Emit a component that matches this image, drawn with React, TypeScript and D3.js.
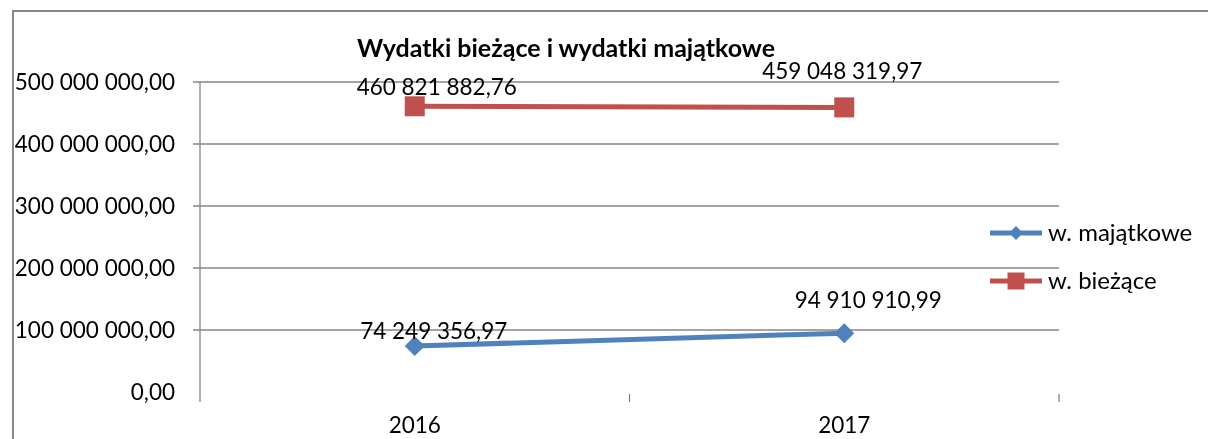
import * as React from "react"
import * as d3 from "d3"

const WIDTH = 1208
const HEIGHT = 439

const title = "Wydatki bieżące i wydatki majątkowe"
const years = ["2016", "2017"]
const yTicks = [0, 100000000, 200000000, 300000000, 400000000, 500000000]

const majatkowe = [74249356.97, 94910910.99]
const biezace = [460821882.76, 459048319.97]

// label offsets from the marker (how Excel happened to place them)
const majatkoweLabelOffset = [
  [19, -7],
  [24, -25],
]
const biezaceLabelOffset = [
  [22, -11],
  [-2, -28],
]

const BLUE = "#4F81BD"
const RED = "#C0504D"
const GRID = "#868686"
const FONT = "Lato, 'Open Sans', sans-serif"

const pl = d3.formatLocale({
  decimal: ",",
  thousands: " ",
  grouping: [3],
  currency: ["", ""],
})
const fmt = pl.format(",.2f")

export default function App() {
  const svgRef = React.useRef<SVGSVGElement>(null)

  React.useEffect(() => {
    const svg = d3.select(svgRef.current)
    svg.selectAll("*").remove()

    const left = 200
    const right = 1059
    const top = 82
    const bottom = 392

    const x = d3.scaleBand().domain(years).range([left, right])
    const y = d3.scaleLinear().domain([0, 500000000]).range([bottom, top])
    const cx = (d: string) => (x(d) as number) + x.bandwidth() / 2

    // frame (only top and left edges fall inside the picture)
    svg
      .append("path")
      .attr("d", `M13,${HEIGHT}V11H${WIDTH}`)
      .attr("fill", "none")
      .attr("stroke", GRID)
      .attr("stroke-width", 2)

    svg
      .append("text")
      .attr("x", 566)
      .attr("y", 57)
      .attr("text-anchor", "middle")
      .attr("font-family", FONT)
      .attr("font-weight", "bold")
      .attr("font-size", 25)
      .text(title)

    // gridlines + y labels
    const g = svg.append("g")
    g.selectAll(".grid")
      .data(yTicks.filter(d => d > 0))
      .enter()
      .append("line")
      .attr("x1", left - 7)
      .attr("x2", right)
      .attr("y1", d => y(d))
      .attr("y2", d => y(d))
      .attr("stroke", GRID)
      .attr("stroke-width", 1.3)

    g.selectAll(".ylab")
      .data(yTicks)
      .enter()
      .append("text")
      .attr("x", 175)
      .attr("y", d => y(d) + 8)
      .attr("text-anchor", "end")
      .attr("font-family", FONT)
      .attr("font-size", 22.5)
      .attr("fill", "#000")
      .text(d => fmt(d))

    // y axis line and category ticks
    g.append("line")
      .attr("x1", left)
      .attr("x2", left)
      .attr("y1", top)
      .attr("y2", bottom + 10)
      .attr("stroke", GRID)
      .attr("stroke-width", 1.3)

    const tickXs = years.map(d => (x(d) as number) + x.bandwidth())
    g.selectAll(".xtick")
      .data(tickXs)
      .enter()
      .append("line")
      .attr("x1", d => d)
      .attr("x2", d => d)
      .attr("y1", bottom + 2)
      .attr("y2", bottom + 10)
      .attr("stroke", GRID)
      .attr("stroke-width", 1.3)

    g.selectAll(".xlab")
      .data(years)
      .enter()
      .append("text")
      .attr("x", d => cx(d))
      .attr("y", 433)
      .attr("text-anchor", "middle")
      .attr("font-family", FONT)
      .attr("font-size", 22.5)
      .text(d => d)

    const line = d3
      .line<number>()
      .x((_, i) => cx(years[i]))
      .y(d => y(d))

    const diamond = (s: number) => `M0,${-s}L${s},0L0,${s}L${-s},0Z`

    // w. majątkowe
    svg
      .append("path")
      .attr("d", line(majatkowe))
      .attr("fill", "none")
      .attr("stroke", BLUE)
      .attr("stroke-width", 5)
    svg
      .selectAll(".mdot")
      .data(majatkowe)
      .enter()
      .append("path")
      .attr("d", diamond(10))
      .attr("transform", (d, i) => `translate(${cx(years[i])},${y(d)})`)
      .attr("fill", BLUE)

    // w. bieżące
    svg
      .append("path")
      .attr("d", line(biezace))
      .attr("fill", "none")
      .attr("stroke", RED)
      .attr("stroke-width", 5)
    svg
      .selectAll(".bdot")
      .data(biezace)
      .enter()
      .append("rect")
      .attr("x", (d, i) => cx(years[i]) - 10)
      .attr("y", d => y(d) - 10)
      .attr("width", 20)
      .attr("height", 20)
      .attr("fill", RED)

    // data labels
    const labels = [
      ...majatkowe.map((d, i) => ({ v: d, i, off: majatkoweLabelOffset[i] })),
      ...biezace.map((d, i) => ({ v: d, i, off: biezaceLabelOffset[i] })),
    ]
    svg
      .selectAll(".dlab")
      .data(labels)
      .enter()
      .append("text")
      .attr("x", d => cx(years[d.i]) + d.off[0])
      .attr("y", d => y(d.v) + d.off[1])
      .attr("text-anchor", "middle")
      .attr("font-family", FONT)
      .attr("font-size", 22.5)
      .text(d => fmt(d.v))

    // legend
    const legend = [
      { name: "w. majątkowe", color: BLUE, shape: "diamond" },
      { name: "w. bieżące", color: RED, shape: "square" },
    ]
    const lg = svg
      .selectAll(".leg")
      .data(legend)
      .enter()
      .append("g")
      .attr("transform", (d, i) => `translate(990,${233 + i * 48})`)
    lg.append("line")
      .attr("x1", 0)
      .attr("x2", 52)
      .attr("stroke", d => d.color)
      .attr("stroke-width", 5)
    lg.append("path")
      .attr("d", d =>
        d.shape === "diamond" ? diamond(7) : "M-8.5,-8.5H8.5V8.5H-8.5Z"
      )
      .attr("transform", "translate(26,0)")
      .attr("fill", d => d.color)
    lg.append("text")
      .attr("x", 58)
      .attr("y", 8)
      .attr("font-family", FONT)
      .attr("font-size", 24)
      .text(d => d.name)
  }, [])

  return (
    <div
      style={{
        position: "fixed",
        left: 0,
        top: 0,
        width: WIDTH,
        height: HEIGHT,
        overflow: "hidden",
      }}
    >
      <svg
        ref={svgRef}
        width={WIDTH}
        height={HEIGHT}
        style={{ display: "block" }}
      />
    </div>
  )
}
